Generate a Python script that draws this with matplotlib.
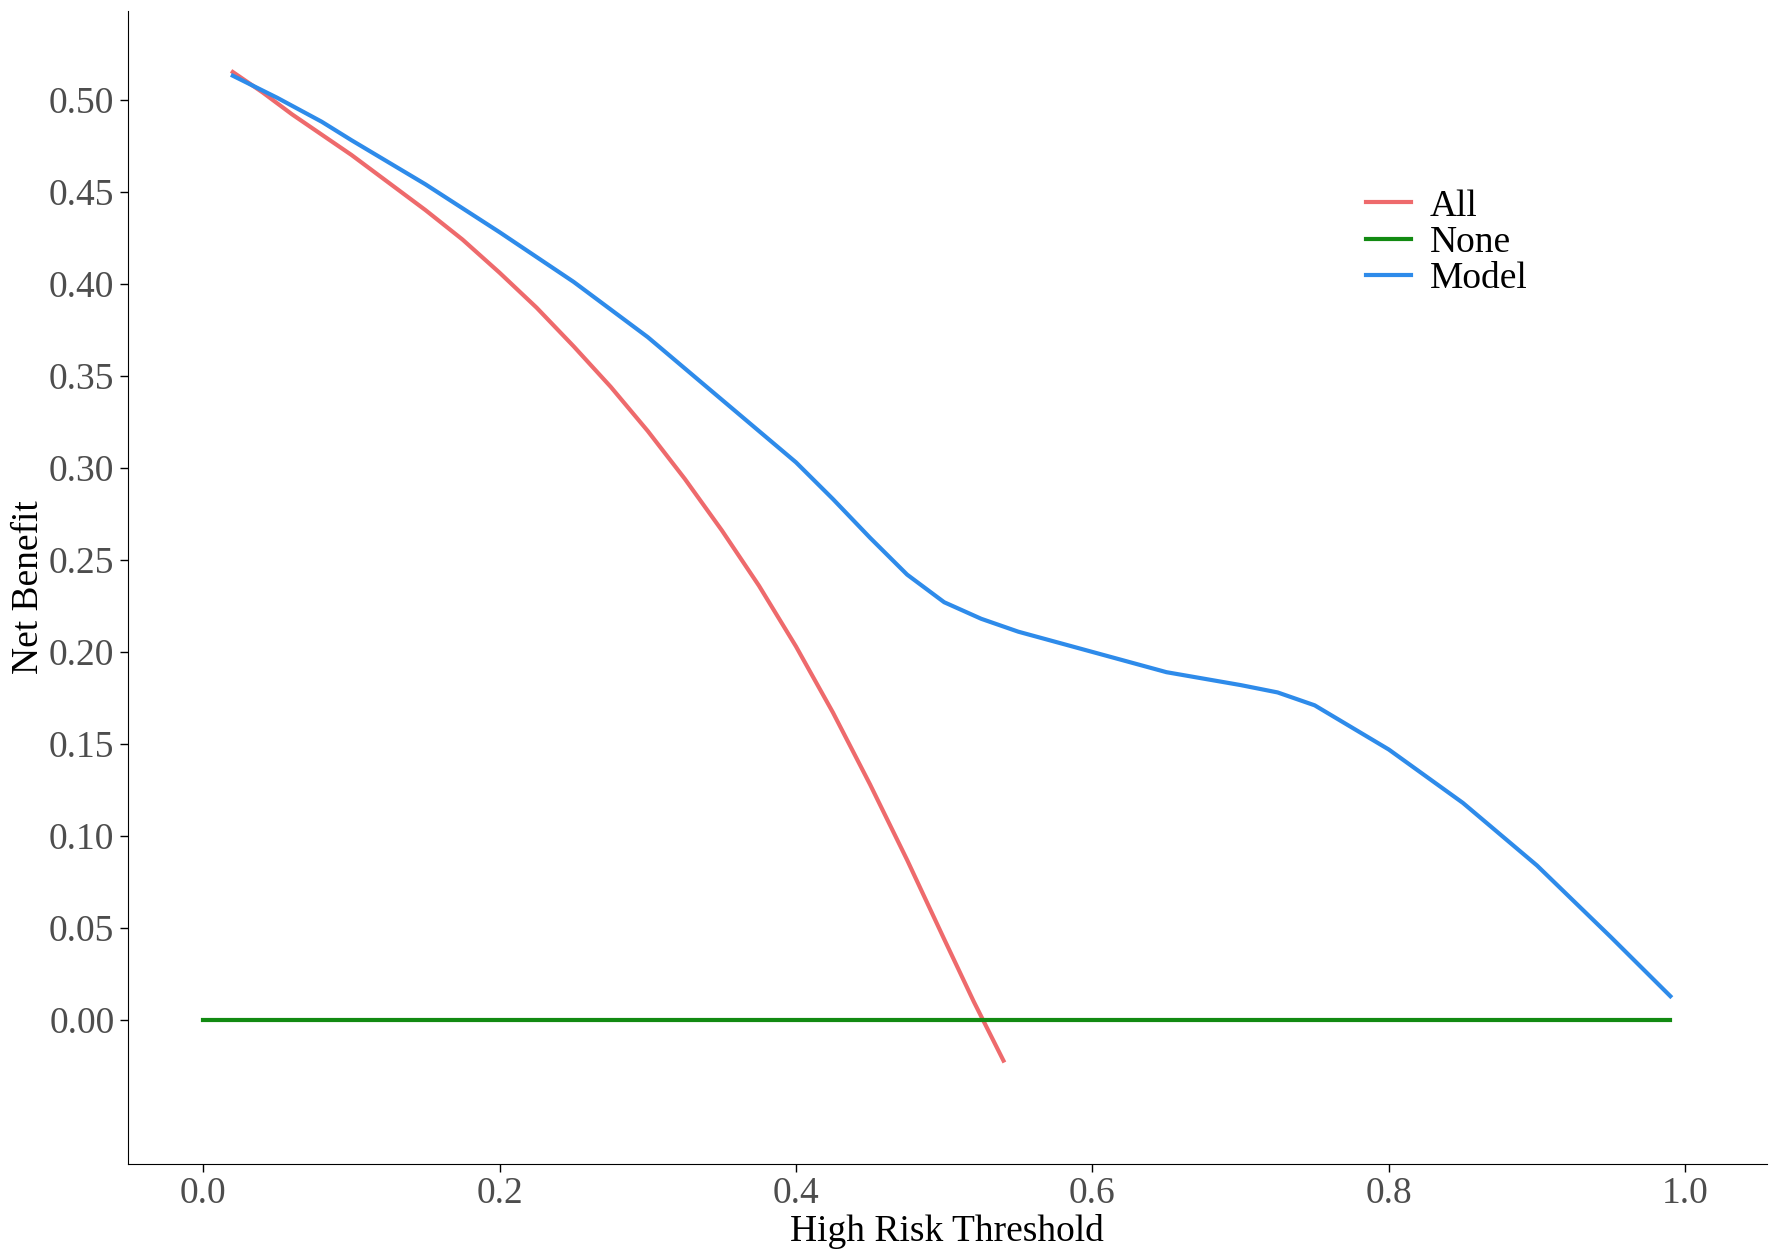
import matplotlib
matplotlib.use("Agg")
import matplotlib.pyplot as plt

all_x = [0.02, 0.04, 0.06, 0.08, 0.10, 0.125, 0.15, 0.175, 0.20, 0.225, 0.25, 0.275, 0.30, 0.325, 0.35, 0.375, 0.40, 0.425, 0.45, 0.475, 0.50, 0.52, 0.53, 0.54]
all_y = [0.515, 0.504, 0.492, 0.481, 0.470, 0.455, 0.440, 0.424, 0.406, 0.387, 0.366, 0.344, 0.320, 0.294, 0.266, 0.236, 0.203, 0.167, 0.128, 0.087, 0.044, 0.010, -0.006, -0.022]
none_x = [0.0, 0.99]
none_y = [0.0, 0.0]
mod_x = [0.02, 0.05, 0.08, 0.10, 0.15, 0.20, 0.25, 0.30, 0.35, 0.40, 0.425, 0.45, 0.475, 0.50, 0.525, 0.55, 0.60, 0.65, 0.70, 0.725, 0.75, 0.80, 0.85, 0.90, 0.95, 0.99]
mod_y = [0.513, 0.501, 0.488, 0.478, 0.454, 0.428, 0.401, 0.371, 0.337, 0.303, 0.283, 0.262, 0.242, 0.227, 0.218, 0.211, 0.200, 0.189, 0.182, 0.178, 0.171, 0.147, 0.118, 0.084, 0.045, 0.013]

plt.rcParams['font.family'] = ['Liberation Serif', 'DejaVu Serif']
fig = plt.figure(figsize=(17.72, 12.54), dpi=100)
ax = fig.add_axes([0.072, 0.072, 0.925, 0.919])
ax.plot(all_x, all_y, color='#EE6A6C', lw=3, label='All')
ax.plot(none_x, none_y, color='#128A12', lw=3, label='None')
ax.plot(mod_x, mod_y, color='#2E8BEA', lw=3, label='Model')
ax.set_xlim(-0.051, 1.055)
ax.set_ylim(-0.078, 0.548)
ax.set_xticks([0, 0.2, 0.4, 0.6, 0.8, 1.0])
ax.set_xticklabels(['0.0', '0.2', '0.4', '0.6', '0.8', '1.0'])
ax.set_yticks([i*0.05 for i in range(11)])
ax.set_yticklabels([f'{i*0.05:.2f}' for i in range(11)])
ax.tick_params(labelsize=27, labelcolor='#4D4D4D', length=6, width=1)
for s in ['top', 'right']:
    ax.spines[s].set_visible(False)
ax.set_xlabel('High Risk Threshold', fontsize=27, labelpad=2)
ax.set_ylabel('Net Benefit', fontsize=27, labelpad=2)
ax.legend(loc='upper left', bbox_to_anchor=(0.735, 0.875), frameon=False, fontsize=27,
          handlelength=1.2, handletextpad=0.5, labelspacing=0.05)
fig.savefig('out.png')
